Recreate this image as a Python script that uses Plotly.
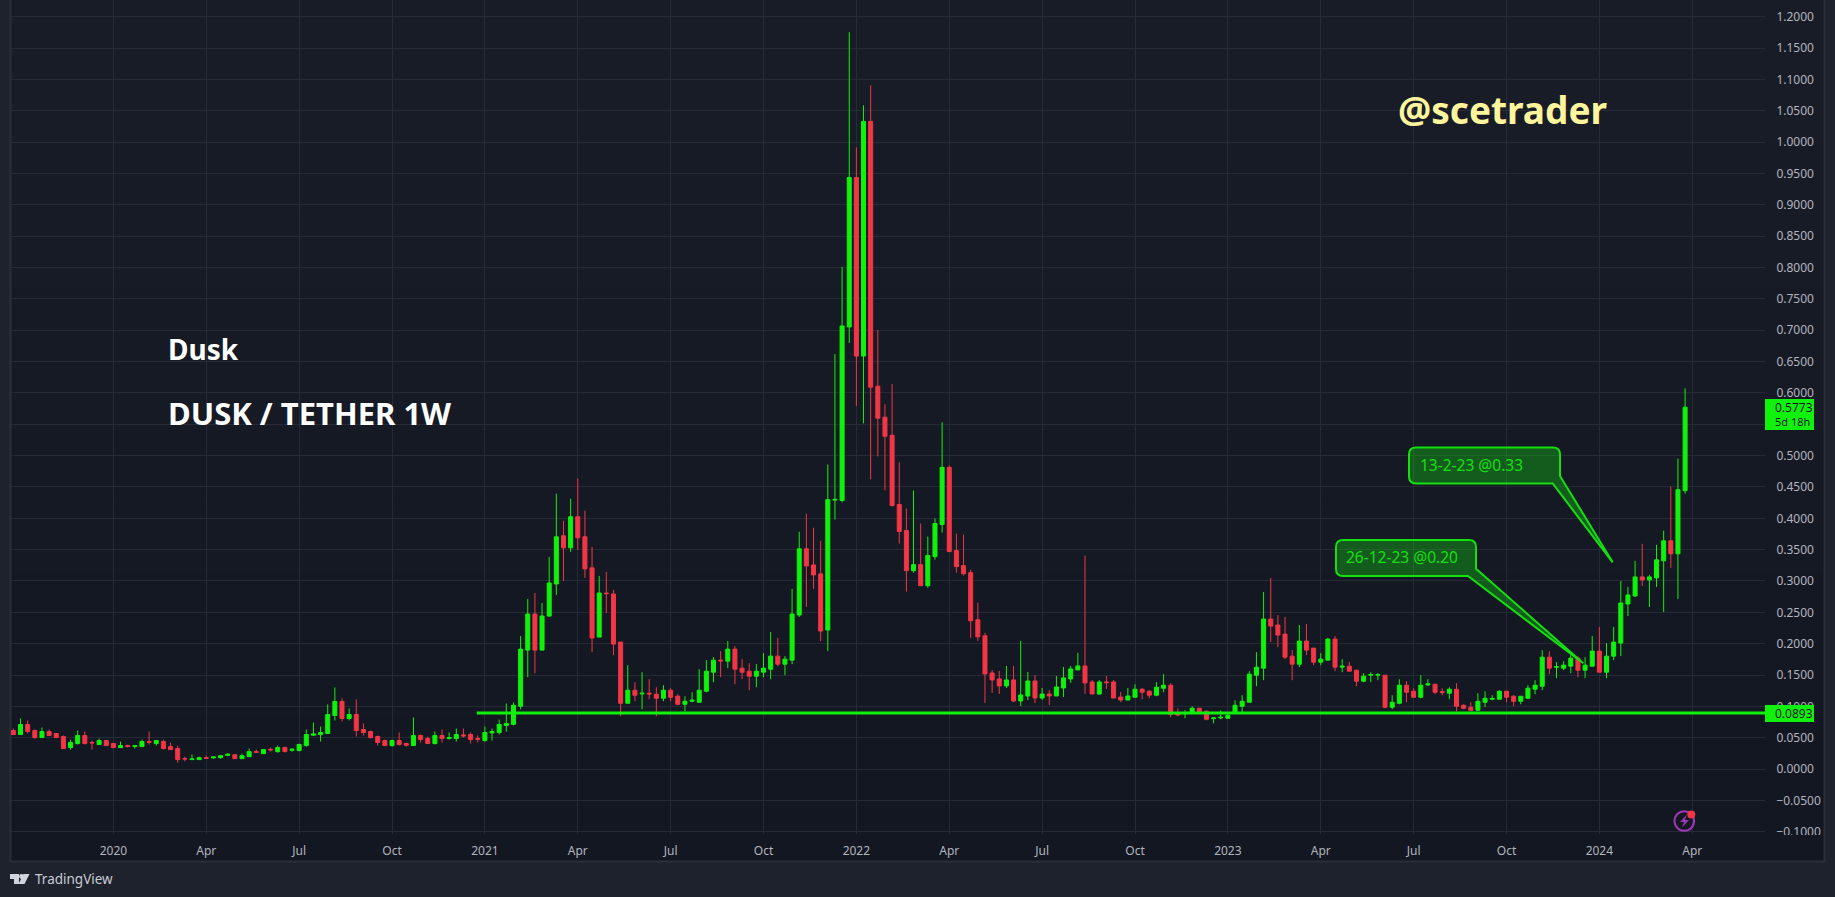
import pandas as pd
import plotly.graph_objects as go

first_week = "2019-09-30"
opens = [
 .0614,.0550,.0710,.0614,.0502,.0598,.0566,.0518,.0342,.0406,
 .0534,.0422,.0390,.0454,.0406,.0342,.0374,.0360,.0358,.0438,
 .0406,.0438,.0358,.0326,.0165,.0150,.0150,.0181,.0178,.0181,
 .0218,.0229,.0165,.0197,.0277,.0245,.0315,.0277,.0342,.0299,
 .0293,.0374,.0539,.0550,.0566,.0854,.1078,.0806,.0870,.0630,
 .0598,.0518,.0454,.0374,.0454,.0406,.0374,.0534,.0486,.0406,
 .0534,.0486,.0486,.0544,.0550,.0486,.0454,.0576,.0582,.0694,
 .0713,.1001,.1897,.2473,.1897,.2441,.2953,.3721,.3529,.4025,
 .3705,.3210,.2105,.2809,.2793,.2025,.1049,.1257,.1198,.1209,
 .1193,.1129,.1257,.1161,.1033,.1081,.1065,.1241,.1545,.1737,
 .1721,.1913,.1609,.1561,.1481,.1545,.1593,.1801,.1673,.1737,
 .2457,.3513,.3257,.3113,.2217,.4291,.4285,.7053,.9437,.6589,
 1.0333,.6109,.5613,.5325,.4221,.3805,.3165,.3261,.2925,.3389,
 .3901,.4813,.3485,.3245,.3133,.2381,.2125,.1533,.1437,.1325,
 .1421,.1085,.1165,.1405,.1133,.1197,.1165,.1293,.1437,.1581,
 .1645,.1389,.1197,.1389,.1389,.1149,.1101,.1145,.1273,.1241,
 .1177,.1289,.1337,.0889,.0884,.0894,.0969,.0921,.0804,.0815,
 .0809,.0894,.1001,.1065,.1497,.1609,.2393,.2297,.2153,.1801,
 .1673,.2041,.1929,.1705,.1737,.2073,.1625,.1641,.1577,.1401,
 .1497,.1497,.1497,.0985,.1049,.1337,.1241,.1145,.1342,.1353,
 .1236,.1209,.1273,.1017,.0985,.0937,.1065,.1113,.1113,.1241,
 .1161,.1081,.1129,.1273,.1321,.1785,.1622,.1609,.1641,.1769,
 .1577,.1641,.1881,.1545,.1801,.2009,.2633,.2761,.3065,.3017,
 .3049,.3321,.3641,.3433,.4441]
closes = [
 .0550,.0710,.0598,.0502,.0598,.0534,.0502,.0326,.0422,.0534,
 .0406,.0416,.0454,.0374,.0342,.0374,.0360,.0370,.0438,.0427,
 .0454,.0326,.0310,.0150,.0160,.0160,.0181,.0170,.0192,.0213,
 .0235,.0165,.0213,.0277,.0267,.0310,.0304,.0342,.0277,.0315,
 .0390,.0550,.0560,.0582,.0870,.1078,.0806,.0870,.0614,.0582,
 .0502,.0422,.0374,.0454,.0390,.0379,.0534,.0470,.0406,.0534,
 .0486,.0502,.0550,.0528,.0470,.0475,.0582,.0598,.0710,.0726,
 .1017,.1913,.2473,.1897,.2441,.2969,.3705,.3529,.4025,.3689,
 .3193,.2090,.2809,.2798,.1993,.1049,.1257,.1177,.1209,.1198,
 .1129,.1257,.1145,.1033,.1081,.1097,.1257,.1561,.1737,.1726,
 .1913,.1593,.1545,.1481,.1561,.1609,.1801,.1673,.1753,.2473,
 .3513,.3241,.3097,.2201,.4297,.4302,.7069,.9437,.6589,1.0333,
 .6093,.5597,.5309,.4205,.3789,.3165,.3261,.2925,.3405,.3917,
 .4813,.3469,.3229,.3117,.2365,.2109,.1517,.1421,.1325,.1421,
 .1085,.1181,.1405,.1133,.1197,.1165,.1309,.1453,.1597,.1645,
 .1373,.1197,.1389,.1378,.1133,.1101,.1165,.1273,.1225,.1177,
 .1305,.1337,.0873,.0862,.0895,.0969,.0894,.0793,.0815,.0825,
 .0857,.1017,.1081,.1513,.1625,.2393,.2281,.2137,.1785,.1673,
 .2041,.1897,.1705,.1753,.2073,.1625,.1641,.1561,.1401,.1481,
 .1507,.1507,.0985,.1065,.1337,.1225,.1145,.1337,.1358,.1225,
 .1220,.1273,.1001,.0969,.0937,.1081,.1129,.1124,.1241,.1145,
 .1081,.1161,.1289,.1337,.1785,.1609,.1633,.1657,.1769,.1577,
 .1657,.1881,.1545,.1801,.2025,.2649,.2777,.3065,.3017,.3065,
 .3337,.3641,.3433,.4457,.5773]
highs = [
 .0646,.0806,.0774,.0630,.0662,.0630,.0566,.0534,.0470,.0614,
 .0598,.0454,.0486,.0454,.0406,.0438,.0390,.0374,.0470,.0598,
 .0454,.0470,.0422,.0374,.0197,.0229,.0197,.0213,.0197,.0213,
 .0250,.0229,.0245,.0325,.0310,.0310,.0342,.0374,.0358,.0331,
 .0406,.0630,.0742,.0678,.1030,.1302,.1126,.0966,.1110,.0726,
 .0614,.0534,.0470,.0470,.0582,.0422,.0822,.0550,.0518,.0598,
 .0630,.0582,.0646,.0646,.0582,.0534,.0678,.0646,.0790,.1046,
 .1062,.2121,.2713,.2809,.2649,.3385,.4393,.3961,.4313,.4633,
 .4121,.3545,.3081,.3145,.2857,.2025,.1657,.1385,.1545,.1433,
 .1305,.1337,.1289,.1193,.1161,.1225,.1593,.1737,.1785,.1881,
 .2041,.1961,.1753,.1689,.1673,.1849,.2185,.2089,.1801,.2873,
 .3785,.4073,.3849,.3641,.4857,.6621,.8013,1.1757,.9917,1.0589,
 1.0909,.7005,.5820,.6141,.4893,.4157,.4445,.3917,.3709,.3997,
 .5533,.4845,.3757,.3741,.3181,.2653,.2173,.1581,.1565,.1645,
 .1645,.2045,.1549,.1501,.1293,.1261,.1485,.1629,.1645,.1853,
 .3405,.1421,.1421,.1485,.1421,.1229,.1293,.1353,.1289,.1257,
 .1385,.1513,.1369,.0969,.0937,.1001,.0969,.0937,.0830,.0937,
 .0884,.1097,.1177,.1561,.1865,.2825,.3049,.2457,.2425,.1897,
 .2297,.2313,.1929,.1849,.2089,.2121,.1753,.1705,.1577,.1529,
 .1545,.1529,.1497,.1177,.1433,.1401,.1289,.1497,.1433,.1353,
 .1289,.1305,.1369,.1033,.1065,.1209,.1241,.1177,.1257,.1241,
 .1177,.1161,.1337,.1417,.1897,.1881,.1705,.1721,.1817,.1801,
 .1785,.2121,.2265,.2009,.2265,.3001,.2905,.3321,.3593,.3097,
 .3577,.3801,.4505,.4953,.6073]
lows = [
 .0550,.0550,.0566,.0486,.0502,.0534,.0502,.0326,.0310,.0390,
 .0390,.0310,.0390,.0374,.0342,.0342,.0342,.0326,.0358,.0390,
 .0374,.0310,.0310,.0101,.0123,.0150,.0150,.0165,.0165,.0165,
 .0203,.0165,.0165,.0197,.0256,.0245,.0277,.0261,.0267,.0277,
 .0293,.0358,.0534,.0438,.0566,.0774,.0758,.0774,.0518,.0534,
 .0486,.0374,.0374,.0358,.0374,.0358,.0374,.0422,.0406,.0390,
 .0422,.0470,.0438,.0502,.0406,.0422,.0438,.0454,.0550,.0598,
 .0694,.0953,.1465,.1529,.1897,.2425,.2777,.3001,.3465,.3497,
 .3050,.1865,.2105,.2489,.1817,.0841,.1049,.1081,.0953,.1113,
 .0841,.1081,.1081,.1017,.0921,.1065,.1065,.1225,.1385,.1465,
 .1609,.1353,.1433,.1257,.1305,.1465,.1433,.1641,.1497,.1673,
 .2425,.2585,.2873,.2041,.1881,.3981,.4253,.6797,.5795,.5515,
 .4621,.4989,.4445,.4189,.3597,.2829,.3133,.2925,.2893,.3341,
 .3773,.3469,.3133,.3085,.2093,.2045,.1053,.1213,.1197,.1293,
 .1069,.1005,.1101,.1053,.1101,.1021,.1165,.1149,.1373,.1581,
 .1197,.1197,.1181,.1277,.1133,.1069,.1101,.1145,.1113,.1129,
 .1161,.1225,.0825,.0841,.0809,.0894,.0894,.0777,.0729,.0793,
 .0809,.0884,.0894,.1065,.1321,.1417,.2025,.1945,.1753,.1417,
 .1625,.1817,.1657,.1657,.1737,.1561,.1545,.1561,.1321,.1385,
 .1385,.1417,.0969,.0953,.1033,.1065,.1145,.1129,.1321,.1193,
 .1177,.1113,.0921,.0953,.0921,.0937,.0985,.1097,.1113,.1065,
 .1001,.1033,.1129,.1193,.1257,.1513,.1449,.1577,.1529,.1465,
 .1449,.1641,.1545,.1449,.1737,.1801,.2441,.2745,.2921,.2585,
 .2905,.2505,.3209,.2713,.4393]
tick_dates = ["2020-01-06","2020-04-06","2020-07-06","2020-10-05","2021-01-04","2021-04-05",
              "2021-07-05","2021-10-04","2022-01-03","2022-04-04","2022-07-04","2022-10-03",
              "2023-01-02","2023-04-03","2023-07-03","2023-10-02","2024-01-01","2024-04-01"]
tick_labels = ["2020","Apr","Jul","Oct","2021","Apr","Jul","Oct","2022","Apr","Jul","Oct",
               "2023","Apr","Jul","Oct","2024","Apr"]
support_level = 0.0893
support_start = "2020-12-27"
last_price = "0.5773"
countdown = "5d 18h"
callout_1 = "13-2-23 @0.33"
callout_2 = "26-12-23 @0.20"

weeks = pd.date_range(first_week, periods=len(opens), freq="7D")

W, H = 1835, 897
L, R, T, B = 11, 1765, 0, 834
GREEN, RED = "#10f20c", "#f23645"
FONT = "Noto Sans"
LABEL = "#b2b5be"

def px(x, y):
    return (x - L) / (R - L), (B - y) / (B - T)

def pt(x, y):
    a, b = px(x, y)
    return f"{a:.6f},{b:.6f}"

def rect(x0, y0, x1, y1, fill, line=None, lw=0, layer="above"):
    a, b = px(x0, y0)
    c, d = px(x1, y1)
    return dict(type="rect", xref="paper", yref="paper", x0=a, y0=b, x1=c, y1=d, fillcolor=fill,
                line=dict(color=line or "rgba(0,0,0,0)", width=lw), layer=layer)

def path(d, fill="rgba(0,0,0,0)", line=None, lw=0, layer="above"):
    return dict(type="path", xref="paper", yref="paper", path=d, fillcolor=fill,
                line=dict(color=line or "rgba(0,0,0,0)", width=lw), layer=layer)

def circle(cx, cy, r, fill="rgba(0,0,0,0)", line=None, lw=0):
    a, b = px(cx - r, cy + r)
    c, d = px(cx + r, cy - r)
    return dict(type="circle", xref="paper", yref="paper", x0=a, y0=b, x1=c, y1=d, fillcolor=fill,
                line=dict(color=line or "rgba(0,0,0,0)", width=lw), layer="above")

def bubble(x0, y0, x1, y1, r, root1, tip, root2):
    return ("M" + pt(x0 + r, y0) + " L" + pt(x1 - r, y0) + " Q" + pt(x1, y0) + " " + pt(x1, y0 + r) +
            " L" + pt(*root1) + " L" + pt(*tip) + " L" + pt(*root2) +
            " L" + pt(x0 + r, y1) + " Q" + pt(x0, y1) + " " + pt(x0, y1 - r) +
            " L" + pt(x0, y0 + r) + " Q" + pt(x0, y0) + " " + pt(x0 + r, y0) + " Z")

shapes = []
# panel with vertical background gradient
top, bot = (0x18, 0x1c, 0x27), (0x13, 0x17, 0x22)
N = 12
for i in range(N):
    t = i / (N - 1)
    c = tuple(round(a + (b - a) * t) for a, b in zip(top, bot))
    shapes.append(rect(11, 861 * i / N, 1824, 861 * (i + 1) / N + 1, "rgb(%d,%d,%d)" % c, layer="below"))
shapes.append(rect(10.5, -2, 1824.5, 861.5, "rgba(0,0,0,0)", "#2a2e39", 2, layer="below"))

# clipped -0.1000 label
shapes.append(rect(1766, 835, 1823, 846, "#131722"))

# support line and price tags
shapes.append(dict(type="line", xref="x", yref="y", x0=support_start, x1=weeks[-1] + pd.Timedelta(days=170),
                   y0=support_level, y1=support_level, line=dict(color=GREEN, width=3), layer="above"))
shapes.append(rect(1765, 705, 1814, 722, GREEN))
shapes.append(rect(1765, 399, 1814, 430, GREEN))

# callouts
FILL = "rgba(21,245,15,0.3)"
shapes.append(path(bubble(1409, 447.5, 1560, 483.5, 7, (1560, 476), (1612.7, 562.3), (1552.7, 483.5)), FILL, "#14e010", 2))
shapes.append(path(bubble(1336, 540, 1476, 576, 7, (1476, 568.7), (1583.3, 663.3), (1468, 576)), FILL, "#14e010", 2))

# lightning icon
shapes.append(circle(1684.3, 821, 9.8, line="#9c36b5", lw=2))
shapes.append(path("M" + pt(1687, 814.5) + " L" + pt(1680, 822) + " L" + pt(1684, 822) + " L" + pt(1682, 827.5) +
                   " L" + pt(1689, 820) + " L" + pt(1685, 820) + " Z", "#9c36b5"))
shapes.append(circle(1691.3, 814.5, 4, fill="#f23645"))

# TradingView logo
LOGO = "#d1d4dc"
shapes.append(path("M" + pt(10, 874) + " L" + pt(19, 874) + " L" + pt(19, 884) + " L" + pt(14, 884) + " L" + pt(14, 879) +
                   " L" + pt(10, 879) + " Z", LOGO))
shapes.append(circle(21.5, 876.5, 2.4, fill=LOGO))
shapes.append(path("M" + pt(23.5, 874) + " L" + pt(29.5, 874) + " L" + pt(24.5, 884) + " L" + pt(18.5, 884) + " Z", LOGO))

def note(x, y, text, size, color, bold=False, anchor="left", family=FONT):
    a, b = px(x, y)
    return dict(xref="paper", yref="paper", x=a, y=b, xanchor=anchor, yanchor="middle", showarrow=False,
                text=f"<b>{text}</b>" if bold else text, font=dict(family=family, size=size, color=color))

annotations = [
    note(166, 349, "Dusk", 28, "#ffffff", True),
    note(166, 413, "DUSK / TETHER 1W", 31, "#ffffff", True),
    note(1396, 110, "@scetrader", 37, "#fff59d", True),
    note(1418, 465, callout_1, 15.5, "#14e010"),
    note(1344, 557, callout_2, 15.5, "#14e010"),
    note(1773, 408, last_price, 12, "#131722"),
    note(1773, 422, countdown, 11, "#131722"),
    note(1773, 713.5, f"{support_level:.4f}", 12, "#131722"),
    note(33, 879, "TradingView", 13.5, "#c8cbd3"),
]

fig = go.Figure(go.Candlestick(
    x=weeks, open=opens, high=highs, low=lows, close=closes,
    increasing=dict(line=dict(color=GREEN, width=1), fillcolor=GREEN),
    decreasing=dict(line=dict(color=RED, width=1), fillcolor=RED),
    whiskerwidth=0, showlegend=False, hoverinfo="skip"))

GRID = "rgba(42,46,57,0.85)"
fig.update_layout(
    width=W, height=H, margin=dict(l=L, r=W - R, t=T, b=H - B, pad=0), boxgap=0.2, boxgroupgap=0.3,
    paper_bgcolor="#1e222d", plot_bgcolor="rgba(0,0,0,0)", showlegend=False,
    shapes=shapes, annotations=annotations, font=dict(family=FONT, size=12, color=LABEL),
    xaxis=dict(type="date", range=["2019-09-27 16:00", "2024-06-11 07:00"], rangeslider=dict(visible=False),
               tickmode="array", tickvals=tick_dates, ticktext=tick_labels, tickangle=0,
               showgrid=True, gridcolor=GRID, gridwidth=1, zeroline=False, showline=False,
               ticks="outside", ticklen=6, tickcolor="rgba(0,0,0,0)", tickfont=dict(family=FONT, size=12, color=LABEL)),
    yaxis=dict(side="right", range=[-0.1037, 1.2270], tick0=0, dtick=0.05, tickformat=".4f",
               showgrid=True, gridcolor=GRID, gridwidth=1, zeroline=False, showline=False,
               ticks="outside", ticklen=8, tickcolor="rgba(0,0,0,0)", tickfont=dict(family=FONT, size=12, color=LABEL)),
)
fig.write_html("out.html", config=dict(displayModeBar=False),
               post_script="document.body.style.margin='0';document.body.style.overflow='hidden';")
